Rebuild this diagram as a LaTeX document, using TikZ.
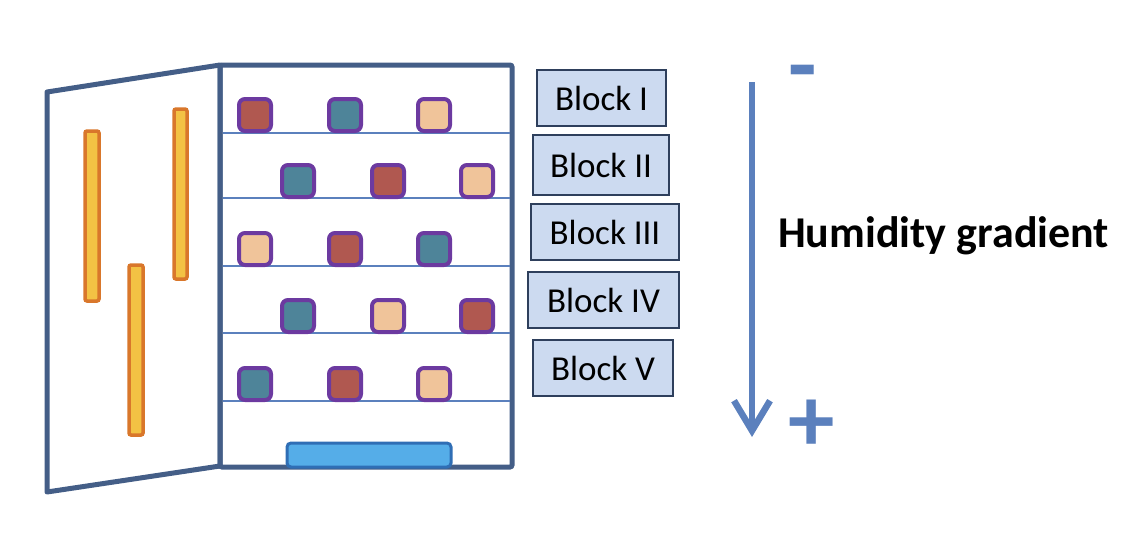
\documentclass[tikz,border=0pt]{standalone}
\usepackage{fontspec}
\setmainfont{Carlito}
\usetikzlibrary{arrows.meta}

\definecolor{cabblue}{RGB}{68,94,135}
\definecolor{shelfblue}{RGB}{91,128,189}
\definecolor{potred}{RGB}{176,88,80}
\definecolor{potteal}{RGB}{78,132,153}
\definecolor{potpink}{RGB}{240,196,154}
\definecolor{potedge}{RGB}{108,58,160}
\definecolor{lampfill}{RGB}{243,194,68}
\definecolor{lampedge}{RGB}{217,119,43}
\definecolor{waterfill}{RGB}{85,173,232}
\definecolor{wateredge}{RGB}{47,110,181}
\definecolor{blockfill}{RGB}{204,218,240}
\definecolor{blockedge}{RGB}{46,63,92}

\begin{document}
\begin{tikzpicture}[x=1pt, y=-1pt,
    pot/.style={draw=potedge, line width=4pt, rounded corners=6pt, minimum size=32pt, inner sep=0pt},
    blocklabel/.style={draw=blockedge, fill=blockfill, line width=1.5pt, minimum height=56pt, inner sep=0pt, font=\fontsize{35}{40}\selectfont},
    lamp/.style={draw=lampedge, fill=lampfill, line width=3.5pt, rounded corners=2pt},
    shelf/.style={shelfblue, line width=2pt},
    sign/.style={shelfblue, anchor=base west, inner sep=0pt, font=\bfseries\fontsize{93}{100}\selectfont}]
    \useasboundingbox (0,0) rectangle (1140,554);
    
    % Open door with lamps
    \draw[cabblue, line width=5pt, line join=round] (220,65) -- (47,92) -- (47,492) -- (220,466) -- cycle;
    \draw[lamp] (85,131) rectangle (99,301);
    \draw[lamp] (129,265) rectangle (143,435);
    \draw[lamp] (174,109) rectangle (187,279);
    
    % Cabinet and shelves
    \draw[cabblue, line width=5pt, rounded corners=2pt] (220,65) rectangle (512,467);
    \foreach \sy in {133,198,266,333,401}
        \draw[shelf] (223,\sy) -- (510,\sy);
    
    % Water tray
    \draw[wateredge, fill=waterfill, line width=3pt, rounded corners=4pt] (287,443) rectangle (451,467);
    
    % Pots on the shelves
    \foreach \px/\py/\pc [count=\i] in {255/115/potred, 345/115/potteal, 434/115/potpink,
        298/181/potteal, 388/181/potred, 477/181/potpink,
        255/249/potpink, 345/249/potred, 434/249/potteal,
        298/316/potteal, 388/316/potpink, 477/316/potred,
        255/384/potteal, 345/384/potred, 434/384/potpink}
        \node[pot, fill=\pc] (pot\i) at (\px,\py) {};
    
    % Block labels
    \node[blocklabel, minimum width=129pt] (blockI) at (601.5,98) {Block I};
    \node[blocklabel, minimum width=136pt, minimum height=60pt] (blockII) at (601,165) {Block II};
    \node[blocklabel, minimum width=148pt] (blockIII) at (605,232) {Block III};
    \node[blocklabel, minimum width=151pt] (blockIV) at (603.5,300) {Block IV};
    \node[blocklabel, minimum width=140pt] (blockV) at (603,368) {Block V};
    
    % Gradient arrow
    \coordinate (gtop) at (752,82);
    \coordinate (gbot) at (752,437);
    \draw[shelfblue, line width=6.5pt, -{Straight Barb[length=30pt, width=36pt]}] (gtop) -- (gbot);
    \node[sign] (drysign) at (788,96) {-};
    \node[sign] (wetsign) at (788,451) {+};
    \node[anchor=base west, inner sep=0pt, font=\bfseries\fontsize{44}{50}\selectfont] (gradlabel) at (778,247) {Humidity gradient};
    
\end{tikzpicture}
\end{document}
